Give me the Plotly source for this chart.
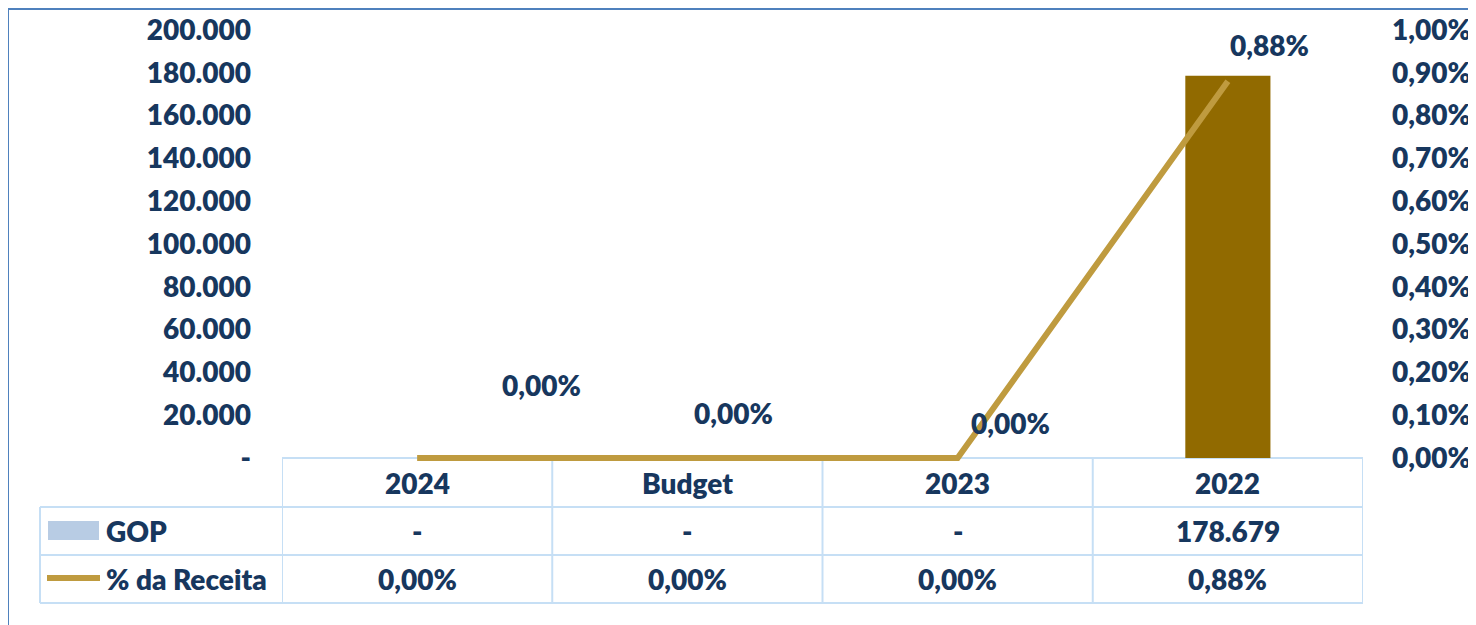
import plotly.graph_objects as go

categories = ['2024', 'Budget', '2023', '2022']
gop = [0, 0, 0, 178679]
pct_receita = [0.0, 0.0, 0.0, 0.0088]

left_ticks = [0, 20000, 40000, 60000, 80000, 100000, 120000, 140000, 160000, 180000, 200000]
left_tick_text = ['-', '20.000', '40.000', '60.000', '80.000', '100.000',
                  '120.000', '140.000', '160.000', '180.000', '200.000']
right_ticks = [0, 0.001, 0.002, 0.003, 0.004, 0.005, 0.006, 0.007, 0.008, 0.009, 0.01]

# label offsets (px) for line data labels, as Excel placed them
label_shift = [(124, 73), (46, 45), (53, 35), (42, 36)]

W, H = 1476, 625
PAGE_OFF = 8  # body margin of the html page
NAVY = '#17375E'
GOLD_LINE = '#BF9B3F'
GOLD_BAR = '#916A00'
GRID = '#C6DFF5'
FONT = 'Lato'
FS = 28

# plot area in page pixels; a few px of slack below zero so the line isn't clipped
TOP, ZERO, PAD = 30, 458, 4
frac = PAD / (ZERO - TOP)


def px_x(p):
    return (p - PAGE_OFF) / W


def px_y(p):
    return (H - (p - PAGE_OFF)) / H


def fmt_pct(v):
    return f'{v * 100:.2f}%'.replace('.', ',')


fig = go.Figure()

idx = list(range(len(categories)))

fig.add_trace(go.Bar(
    x=idx, y=gop, name='GOP',
    marker=dict(color=GOLD_BAR, line=dict(width=0)),
    width=0.315, hoverinfo='skip'
))

fig.add_trace(go.Scatter(
    x=idx, y=pct_receita, name='% da Receita', yaxis='y2',
    mode='lines', line=dict(color=GOLD_LINE, width=6), hoverinfo='skip'
))

text_font = dict(family=FONT, size=FS, color=NAVY, weight=800)

annotations = []
for i, v, (dx, dy) in zip(idx, pct_receita, label_shift):
    annotations.append(dict(
        x=i, y=v, xref='x', yref='y2', text=fmt_pct(v),
        xanchor='center', yanchor='middle',
        showarrow=False, xshift=dx, yshift=dy, font=text_font
    ))

# data table
row_edges = [458, 507, 555, 603]
shapes = []
for i in range(len(row_edges)):
    x0 = 282 if i == 0 else 40
    shapes.append(dict(type='line', xref='paper', yref='paper', layer='below',
                       x0=px_x(x0), x1=px_x(1363), y0=px_y(row_edges[i]), y1=px_y(row_edges[i]),
                       line=dict(color=GRID, width=2)))
for k in range(len(categories) + 1):
    shapes.append(dict(type='line', xref='x', yref='paper', layer='below',
                       x0=k - 0.5, x1=k - 0.5, y0=px_y(603), y1=px_y(458),
                       line=dict(color=GRID, width=2)))
shapes.append(dict(type='line', xref='paper', yref='paper', layer='below',
                   x0=px_x(40), x1=px_x(40), y0=px_y(603), y1=px_y(507),
                   line=dict(color=GRID, width=2)))

# legend keys
shapes.append(dict(type='rect', xref='paper', yref='paper',
                   x0=px_x(48), x1=px_x(99), y0=px_y(540), y1=px_y(521),
                   fillcolor='#B8CCE4', line=dict(width=0)))
shapes.append(dict(type='line', xref='paper', yref='paper',
                   x0=px_x(47), x1=px_x(100), y0=px_y(578), y1=px_y(578),
                   line=dict(color=GOLD_LINE, width=6)))

# outer frame
shapes.append(dict(type='rect', xref='paper', yref='paper',
                   x0=px_x(8), x1=1.05, y0=-0.05, y1=px_y(9),
                   line=dict(color='#4F81BD', width=2)))

row_mid = [(row_edges[i] + row_edges[i + 1]) / 2 for i in range(3)]
gop_text = ['-' if v == 0 else f'{v:,.0f}'.replace(',', '.') for v in gop]
pct_text = [fmt_pct(v) for v in pct_receita]
for i, cat, g, p in zip(idx, categories, gop_text, pct_text):
    for y, t in zip(row_mid, [cat, g, p]):
        annotations.append(dict(
            x=i, y=px_y(y), xref='x', yref='paper', text=t, showarrow=False,
            xanchor='center', yanchor='middle', font=text_font
        ))
for y, t in zip(row_mid[1:], ['GOP', '% da Receita']):
    annotations.append(dict(
        x=px_x(104), y=px_y(y), xref='paper', yref='paper', text=t, showarrow=False,
        xanchor='left', yanchor='middle', font=text_font
    ))

y_max, y2_max = left_ticks[-1], right_ticks[-1]

fig.update_layout(
    width=W, height=H,
    margin=dict(l=0, r=0, t=0, b=0, autoexpand=False),
    paper_bgcolor='white', plot_bgcolor='white',
    separators=',.',
    showlegend=False,
    xaxis=dict(domain=[px_x(282), px_x(1363)], range=[-0.5, 3.5], automargin=False,
               showticklabels=False, showgrid=False, zeroline=False, ticks=''),
    yaxis=dict(domain=[px_y(ZERO + PAD), px_y(TOP)], range=[-y_max * frac, y_max],
               automargin=False,
               tickvals=left_ticks, ticktext=left_tick_text, tickfont=text_font,
               showgrid=False, zeroline=False, ticklabelstandoff=30),
    yaxis2=dict(overlaying='y', side='right', range=[-y2_max * frac, y2_max],
                automargin=False,
                tickvals=right_ticks, tickformat='.2%', tickfont=text_font,
                showgrid=False, zeroline=False, ticklabelstandoff=28),
    shapes=shapes,
    annotations=annotations,
)

fig.write_html('out.html')
